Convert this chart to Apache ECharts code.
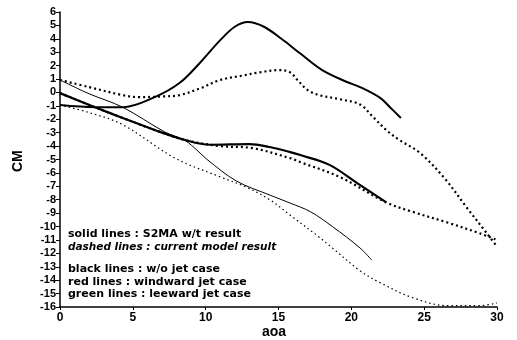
<!DOCTYPE html>
<html>
<head>
<meta charset="utf-8">
<script src="https://cdn.jsdelivr.net/npm/echarts@6/dist/echarts.min.js"></script>
<style>
  html, body { margin: 0; padding: 0; background: #fff; }
  #chart { width: 517px; height: 340px; }
</style>
</head>
<body>
<div id="chart"></div>
<script>
// thick solid, rises to a peak near aoa 13
var solidPeakX = [0, 2.4, 4.3, 6.5, 8.2, 9.6, 11, 12, 12.9, 14, 15.2, 16.5, 18, 19.7, 20.6, 22, 22.65, 23.4];
var solidPeakY = [-0.94, -1.1, -1.1, -0.35, 0.7, 2.2, 3.9, 4.9, 5.25, 4.9, 4.0, 2.9, 1.67, 0.78, 0.4, -0.42, -1.1, -1.9];

// dashed companion of the peak curve
var dashPeakX = [0, 2, 4.3, 5.4, 7, 8.2, 9.6, 11, 12.5, 13.7, 15.1, 15.8, 16.3, 17, 17.8, 19.2, 20.6, 21.5, 22.4, 23.3, 24.7, 26.4, 27.9, 29.3, 30];
var dashPeakY = [0.93, 0.4, -0.2, -0.35, -0.3, -0.2, 0.3, 0.93, 1.25, 1.5, 1.67, 1.5, 0.93, 0.18, -0.2, -0.5, -0.9, -1.84, -2.8, -3.55, -4.5, -6.4, -8.55, -10.5, -11.5];

// thin solid falling line
var solidThinX = [0, 2, 4.3, 7.2, 8.6, 9.4, 10.1, 12.1, 14.4, 15.8, 17.2, 18.7, 20.6, 21.4];
var solidThinY = [0.93, -0.1, -1.1, -2.95, -3.6, -4.3, -5.0, -6.6, -7.65, -8.25, -8.9, -10.0, -11.6, -12.5];

// thick solid middle line
var solidMidX = [0, 2.4, 4.3, 6.5, 8.6, 10.3, 13, 14.4, 15.8, 16.5, 18.5, 20.4, 22.4];
var solidMidY = [-0.05, -1.1, -1.9, -2.8, -3.55, -3.9, -3.85, -4.07, -4.45, -4.67, -5.4, -6.76, -8.2];

// dashed middle line
var dashMidX = [0, 2.4, 4.3, 6.5, 8.6, 11, 13.2, 15.8, 16.5, 19.2, 22.4, 24.2, 26.6, 28.8, 30];
var dashMidY = [-0.05, -1.1, -1.9, -2.8, -3.55, -4.0, -4.15, -4.9, -5.2, -6.3, -8.2, -8.9, -9.7, -10.5, -11.0];

// thin dotted lowest line
var dotLowX = [0, 2, 4.3, 7.9, 11, 12.8, 14.4, 15.8, 17.8, 18.7, 20.6, 22, 24.2, 26.6, 28.8, 30];
var dotLowY = [-0.94, -1.5, -2.4, -4.9, -6.3, -7.06, -8.0, -9.15, -10.8, -11.6, -13.3, -14.2, -15.3, -15.9, -15.9, -15.7];

var noteLines = [
  'solid lines : S2MA w/t result',
  'dashed lines : current model result',
  'black lines : w/o jet case',
  'red lines : windward jet case',
  'green lines : leeward jet case'
];

function pairs(xs, ys) {
  return xs.map(function (x, i) { return [x, ys[i]]; });
}

function line(xs, ys, width, type) {
  return {
    type: 'line',
    data: pairs(xs, ys),
    showSymbol: false,
    smooth: 0.35,
    silent: true,
    lineStyle: { color: '#000', width: width, type: type }
  };
}

var font = 'Liberation Sans, Arial, sans-serif';
var noteFont = 'DejaVu Sans, sans-serif';
var noteTops = [229, 242, 264, 277, 289];

var chart = echarts.init(document.getElementById('chart'));
chart.setOption({
  animation: false,
  grid: { left: 60, right: 20, top: 12, bottom: 33 },
  xAxis: {
    type: 'value',
    min: 0, max: 30, interval: 5,
    splitLine: { show: false },
    axisLine: { onZero: false, lineStyle: { color: '#000', width: 1.5 } },
    axisTick: { length: 3, lineStyle: { color: '#000' } },
    axisLabel: { color: '#000', fontSize: 12, fontWeight: 'bold', fontFamily: font, margin: 5 }
  },
  yAxis: {
    type: 'value',
    min: -16, max: 6, interval: 1,
    splitLine: { show: false },
    axisLine: { onZero: false, lineStyle: { color: '#000', width: 1.5 } },
    axisTick: { length: 4, lineStyle: { color: '#000' } },
    axisLabel: { color: '#000', fontSize: 11, fontWeight: 'bold', fontFamily: font, margin: 4 }
  },
  graphic: [
    { type: 'text', left: 262, top: 325, style: { text: 'aoa', font: 'bold 14px ' + font, fill: '#000' } },
    { type: 'text', x: 11, y: 172, rotation: Math.PI / 2, style: { text: 'CM', font: 'bold 14px ' + font, fill: '#000' } }
  ].concat(noteLines.map(function (t, i) {
    return {
      type: 'text', left: 68, top: noteTops[i],
      style: { text: t, font: (i === 1 ? 'italic bold 10.5px ' : 'bold 11px ') + noteFont, fill: '#000' }
    };
  })),
  series: [
    line(solidPeakX, solidPeakY, 2, 'solid'),
    line(dashPeakX, dashPeakY, 2.2, [2, 3]),
    line(solidThinX, solidThinY, 1, 'solid'),
    line(solidMidX, solidMidY, 2.2, 'solid'),
    line(dashMidX, dashMidY, 2.2, [2, 3]),
    line(dotLowX, dotLowY, 1.2, [1.5, 3])
  ]
});
</script>
</body>
</html>
